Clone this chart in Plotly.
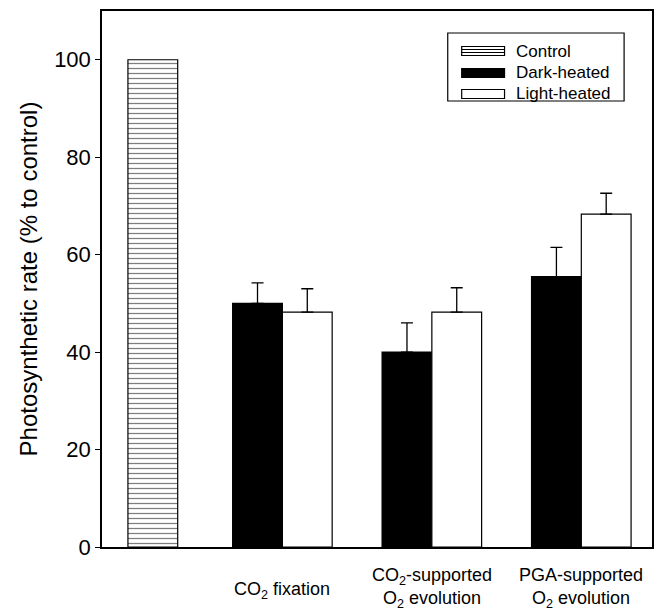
import plotly.graph_objects as go

# ---- data ----
groups = ["CO<sub>2</sub> fixation", "CO<sub>2</sub>-supported<br>O<sub>2</sub> evolution", "PGA-supported<br>O<sub>2</sub> evolution"]
group_pos = [1, 2, 3]
control_pos = [0.133]
control_val = [100]
dark_val = [50, 40, 55.5]
dark_err = [4.2, 6, 6]
light_val = [48.2, 48.2, 68.3]
light_err = [4.8, 5, 4.3]
legend_names = ["Control", "Dark-heated", "Light-heated"]
yticks = [0, 20, 40, 60, 80, 100]

bw = 0.333
FONT = "Liberation Sans, Arial, sans-serif"

fig = go.Figure()
fig.add_trace(go.Bar(
    x=control_pos, y=control_val, width=bw, name=legend_names[0],
    marker=dict(color="white", line=dict(color="black", width=1.2),
                pattern=dict(shape="-", fgcolor="black", bgcolor="white", size=5, solidity=0.25)),
    showlegend=False))
fig.add_trace(go.Bar(
    x=[p - bw / 2 for p in group_pos], y=dark_val, width=bw, name=legend_names[1],
    marker=dict(color="black", line=dict(color="black", width=1.2)),
    error_y=dict(type="data", array=dark_err, arrayminus=[0] * 3, symmetric=False,
                 color="black", thickness=1.3, width=6),
    showlegend=False))
fig.add_trace(go.Bar(
    x=[p + bw / 2 for p in group_pos], y=light_val, width=bw, name=legend_names[2],
    marker=dict(color="white", line=dict(color="black", width=1.2)),
    error_y=dict(type="data", array=light_err, arrayminus=[0] * 3, symmetric=False,
                 color="black", thickness=1.3, width=6),
    showlegend=False))

# category labels as annotations below axis
for pos, lab in zip(group_pos, groups):
    fig.add_annotation(x=pos, y=0, xref="x", yref="paper", text=lab, showarrow=False,
                       yanchor="top", yshift=-16 if "<br>" in lab else -30,
                       font=dict(size=18, color="black", family=FONT), align="center")

# custom legend box
PL, PW, PT, PH = 102, 552, 11, 536
def px(x): return (x - PL) / PW
def py(y): return (PT + PH - y) / PH
fig.add_shape(type="rect", xref="paper", yref="paper", x0=px(449), x1=px(626), y0=py(101), y1=py(33),
              line=dict(color="black", width=1.2), fillcolor="white", layer="above")
rows = [51, 73, 94]
for i, (nm, ry) in enumerate(zip(legend_names, rows)):
    fill = "black" if i == 1 else "white"
    fig.add_shape(type="rect", xref="paper", yref="paper", x0=px(463), x1=px(506),
                  y0=py(ry + 4.5), y1=py(ry - 4.5), line=dict(color="black", width=1.2),
                  fillcolor=fill, layer="above")
    if i == 0:
        for dy in (-1.5, 1.5):
            fig.add_shape(type="line", xref="paper", yref="paper", x0=px(463), x1=px(506),
                          y0=py(ry + dy), y1=py(ry + dy), line=dict(color="black", width=1),
                          layer="above")
    fig.add_annotation(x=px(515), y=py(ry), xref="paper", yref="paper", text=nm,
                       showarrow=False, xanchor="left", yanchor="middle",
                       font=dict(size=17, color="black", family=FONT))

fig.update_layout(
    width=663, height=613,
    margin=dict(l=102, r=9, t=11, b=66),
    paper_bgcolor="white", plot_bgcolor="white",
    barmode="overlay",
    showlegend=False,
    font=dict(family=FONT, color="black"),
)
fig.update_xaxes(range=[-0.207, 3.473], showticklabels=False, ticks="", showgrid=False,
                 zeroline=False, showline=True, linecolor="black", linewidth=1.5, mirror=True)
fig.update_yaxes(range=[0, 110], tickvals=yticks, ticks="outside", ticklen=5, tickwidth=1.2,
                 tickcolor="black", showgrid=False, zeroline=False,
                 showline=True, linecolor="black", linewidth=1.5, mirror=True,
                 tickfont=dict(size=22, family=FONT, color="black"),
                 title=dict(text="Photosynthetic rate (% to control)",
                            font=dict(size=24, family=FONT, color="black"), standoff=10))

fig.write_html("out.html")
